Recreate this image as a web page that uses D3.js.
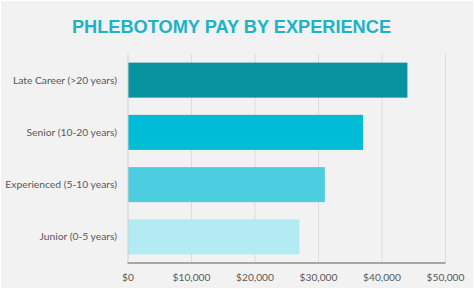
<!DOCTYPE html>
<html><head><meta charset="utf-8">
<script src="https://cdn.jsdelivr.net/npm/d3@7"></script>
<style>html,body{margin:0;padding:0;background:#fff;}svg{display:block;}</style>
</head><body>
<svg id="chart" width="474" height="289"></svg>
<script>
const categories = ["Late Career (>20 years)", "Senior (10-20 years)", "Experienced (5-10 years)", "Junior (0-5 years)"];
const values = [44000, 37000, 31000, 27000];
const barColors = ["#07939f", "#00bcd6", "#4ccde0", "#b3ebf2"];
const tickValues = [0, 10000, 20000, 30000, 40000, 50000];
const title = "PHLEBOTOMY PAY BY EXPERIENCE";

const svg = d3.select("#chart");
const W = 474, H = 289;
svg.append("rect").attr("x", 1).attr("y", 1).attr("width", W - 2).attr("height", H - 2).attr("fill", "#f2f2f2");

const m = {left: 128, right: 474 - 445.5, top: 54, bottom: 289 - 263};
const x = d3.scaleLinear().domain([0, 50000]).range([m.left, W - m.right]);
const y = d3.scaleBand().domain(categories).range([m.top, H - m.bottom]).paddingInner(0.33).paddingOuter(0.165);

svg.append("text").attr("x", 231.5).attr("y", 33).attr("text-anchor", "middle")
  .attr("font-family", "Liberation Sans, Arial, sans-serif").attr("font-weight", "bold")
  .attr("font-size", 18.2).attr("fill", "#1cb3c8").text(title);

// gridlines
svg.append("g").selectAll("line").data(tickValues.slice(1)).join("line")
  .attr("x1", d => x(d)).attr("x2", d => x(d)).attr("y1", m.top).attr("y2", H - m.bottom)
  .attr("stroke", "#dcdcdc").attr("stroke-width", 1);

// bars
svg.append("g").selectAll("rect").data(categories).join("rect")
  .attr("x", x(0)).attr("y", d => y(d)).attr("width", (d, i) => x(values[i]) - x(0))
  .attr("height", y.bandwidth()).attr("fill", (d, i) => barColors[i]);

// y axis line
svg.append("line").attr("x1", x(0)).attr("x2", x(0)).attr("y1", m.top).attr("y2", H - m.bottom)
  .attr("stroke", "#d0d0d0").attr("stroke-width", 1);
// x axis line
svg.append("line").attr("x1", x(0) - 0.5).attr("x2", x(50000)).attr("y1", H - m.bottom).attr("y2", H - m.bottom)
  .attr("stroke", "#a6a6a6").attr("stroke-width", 2);

const fmt = d => "$" + d3.format(",")(d);
svg.append("g").selectAll("text").data(tickValues).join("text")
  .attr("x", d => x(d)).attr("y", 281).attr("text-anchor", "middle")
  .attr("font-family", "Lato, sans-serif").attr("font-size", 10.2).attr("fill", "#595959")
  .text(fmt);

svg.append("g").selectAll("text").data(categories).join("text")
  .attr("x", 117).attr("y", d => y(d) + y.bandwidth() / 2).attr("dy", "0.35em").attr("text-anchor", "end")
  .attr("font-family", "Lato, sans-serif").attr("font-size", 10.3).attr("fill", "#595959")
  .text(d => d);
</script>
</body></html>
